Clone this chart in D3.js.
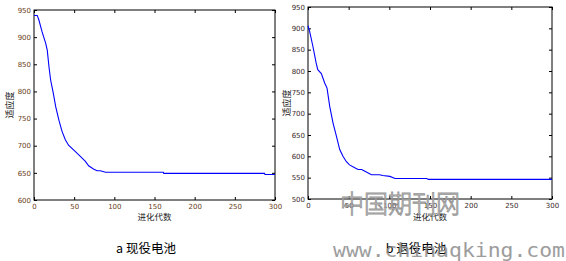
<!DOCTYPE html>
<html>
<head>
<meta charset="utf-8">
<script src="https://cdn.jsdelivr.net/npm/d3@7"></script>
<style>
  body { margin: 0; background: #fff; }
  svg { display: block; }
  .tick text { font-family: "DejaVu Sans", sans-serif; font-size: 7px; }
</style>
</head>
<body>
<svg id="chart" width="566" height="261"></svg>
<script>
// current battery (a)
var genA = [0, 4, 6, 10, 14.5, 16.5, 18.6, 20.7, 24, 27, 31, 35, 39, 43, 49.6, 58, 64, 68, 74, 78.5, 82.6, 89, 161, 161.5, 287, 287.5, 300];
var fitA = [940, 940, 932, 910, 889, 876, 846, 821, 797, 772, 747, 726, 711, 701, 692, 680, 671, 663, 657, 654, 654, 651, 651, 649, 649, 647, 647];
// retired battery (b)
var genB = [0, 2, 6, 10, 12, 16.4, 20.5, 23.4, 26.7, 30.8, 35, 39, 43, 47, 51, 57.5, 61.6, 66, 70, 78, 88, 92, 100.7, 107, 146, 148, 300];
var fitB = [906, 893, 858, 819, 803, 794, 772, 760, 717, 678, 647, 616, 600, 588, 580, 573, 569, 569, 565, 557, 557, 555, 553, 548, 548, 546, 546];

var xTicks = [0, 50, 100, 150, 200, 250, 300];
var yTicksA = [600, 650, 700, 750, 800, 850, 900, 950];
var yTicksB = [500, 550, 600, 650, 700, 750, 800, 850, 900, 950];
var xLabel = "进化代数", yLabel = "适应度";
var captions = ["a  现役电池", "b  退役电池"];

var svg = d3.select("#chart");

function panel(box, gens, fits, yDomain, yTicks, tickColor, caption) {
  var x = d3.scaleLinear().domain([0, 300]).range([box.left, box.right]);
  var y = d3.scaleLinear().domain(yDomain).range([box.bottom, box.top]);
  var g = svg.append("g");

  // inward ticks on all four sides
  g.append("g").attr("transform", "translate(0," + box.bottom + ")")
    .call(d3.axisBottom(x).tickValues(xTicks).tickSize(-3).tickPadding(4));
  g.append("g").attr("transform", "translate(0," + box.top + ")")
    .call(d3.axisTop(x).tickValues(xTicks).tickSize(-3).tickFormat(""));
  g.append("g").attr("transform", "translate(" + box.left + ",0)")
    .call(d3.axisLeft(y).tickValues(yTicks).tickSize(-3).tickPadding(3));
  g.append("g").attr("transform", "translate(" + box.right + ",0)")
    .call(d3.axisRight(y).tickValues(yTicks).tickSize(-3).tickFormat(""));
  g.selectAll(".domain").remove();
  g.selectAll(".tick line").attr("stroke", "#000");
  g.selectAll(".tick text").attr("fill", tickColor);

  g.append("rect")
    .attr("x", box.left).attr("y", box.top)
    .attr("width", box.right - box.left).attr("height", box.bottom - box.top)
    .attr("fill", "none").attr("stroke", "#000").attr("stroke-width", 1);

  var line = d3.line()
    .x(function (d, i) { return x(gens[i]); })
    .y(function (d) { return y(d); });
  g.append("path").datum(fits)
    .attr("d", line)
    .attr("fill", "none")
    .attr("stroke", "#0000ff")
    .attr("stroke-width", 1.1);

  g.append("text")
    .attr("x", (box.left + box.right) / 2).attr("y", 220)
    .attr("text-anchor", "middle")
    .attr("font-family", "Noto Sans CJK SC").attr("font-size", 8.5)
    .attr("fill", "#222")
    .text(xLabel);
  g.append("text")
    .attr("transform", "translate(" + box.ylab + "," + ((box.top + box.bottom) / 2) + ") rotate(-90)")
    .attr("text-anchor", "middle")
    .attr("font-family", "Noto Sans CJK SC").attr("font-size", 9)
    .attr("fill", "#222")
    .text(yLabel);
  g.append("text")
    .attr("x", box.cap).attr("y", 253)
    .attr("text-anchor", "middle")
    .attr("font-family", "Noto Sans CJK SC").attr("font-size", 12.5)
    .attr("fill", "#000")
    .text(caption);
}

panel({ left: 34, right: 275, top: 10, bottom: 200, ylab: 13, cap: 146 },
  genA, fitA, [600, 950], yTicksA, "#6a4020", captions[0]);
panel({ left: 308, right: 552, top: 7, bottom: 199, ylab: 290, cap: 416 },
  genB, fitB, [500, 950], yTicksB, "#3a2a2a", captions[1]);

// site watermark
svg.append("text")
  .attr("x", 400).attr("y", 213)
  .attr("text-anchor", "middle")
  .attr("font-family", "Noto Sans CJK SC").attr("font-weight", 300).attr("font-size", 25)
  .attr("fill", "#fff").attr("stroke", "#8a8a8a").attr("stroke-width", 0.9)
  .attr("opacity", 0.9)
  .attr("textLength", 120).attr("lengthAdjust", "spacingAndGlyphs")
  .text("中国期刊网");
svg.append("text")
  .attr("x", 333).attr("y", 257)
  .attr("font-family", "DejaVu Sans Mono").attr("font-size", 20)
  .attr("fill", "#8c8c8c").attr("opacity", 0.85)
  .attr("textLength", 232).attr("lengthAdjust", "spacingAndGlyphs")
  .text("www.chinaqking.com");
</script>
</body>
</html>
